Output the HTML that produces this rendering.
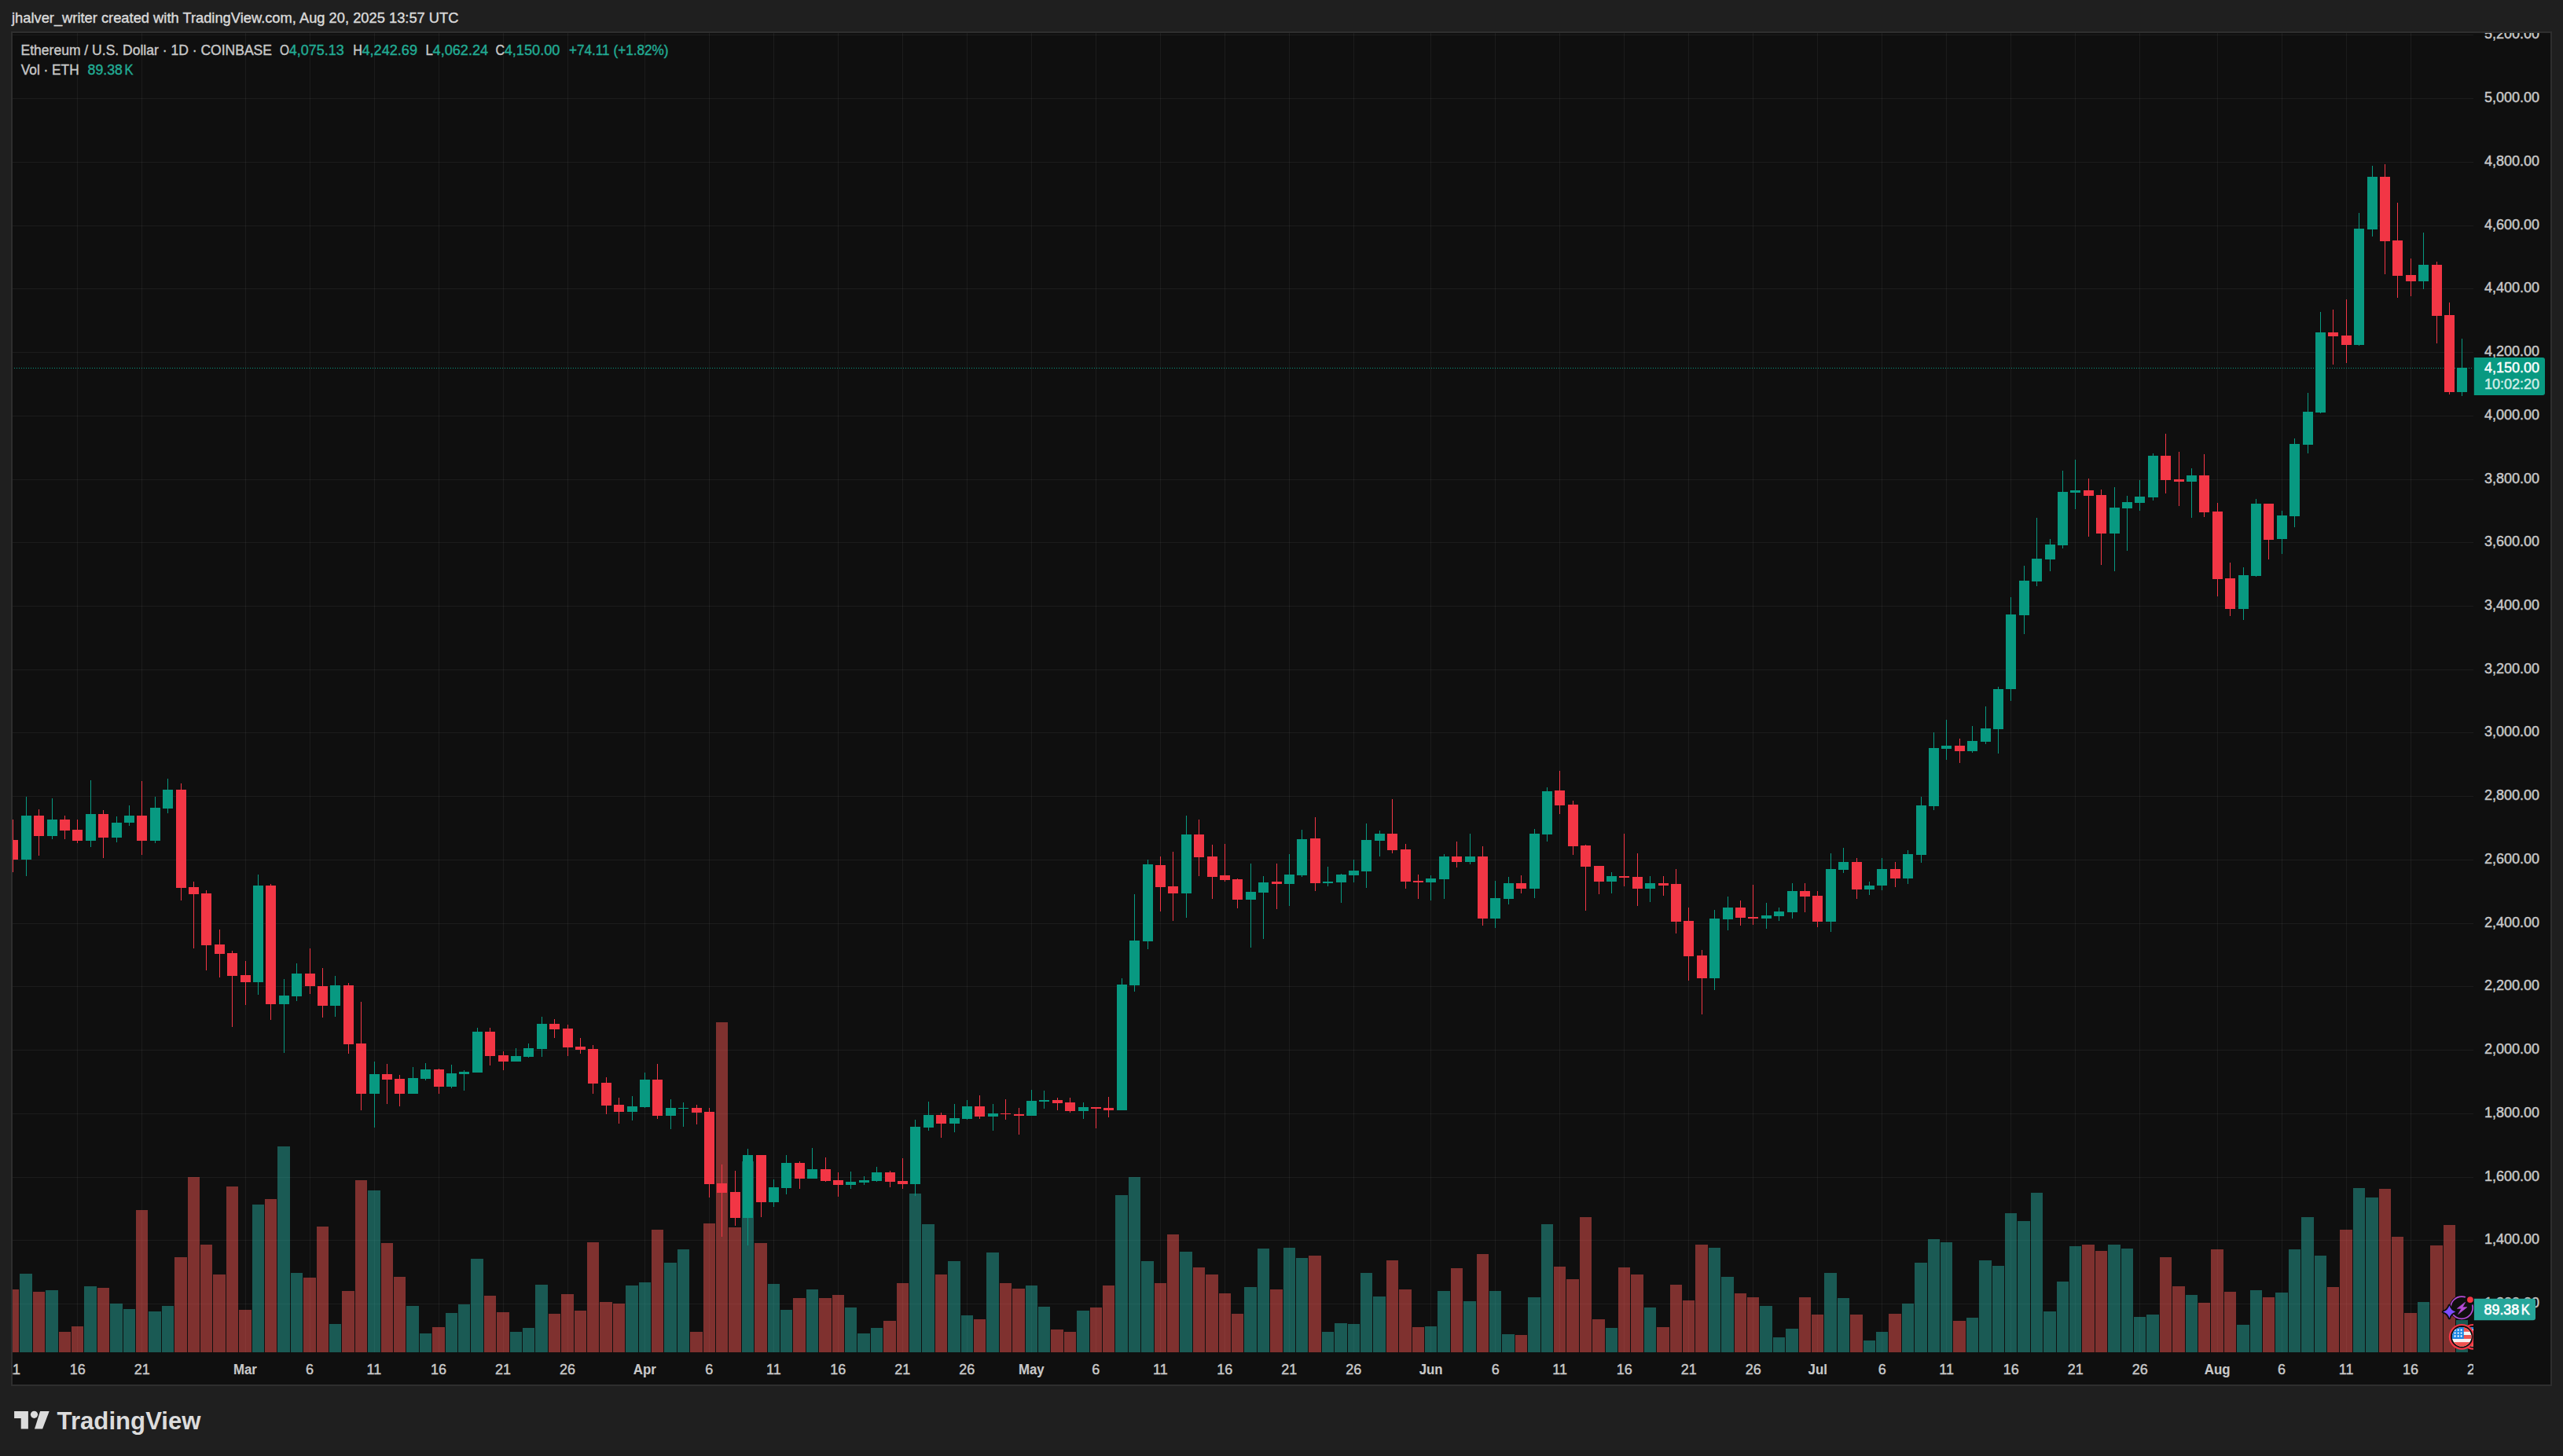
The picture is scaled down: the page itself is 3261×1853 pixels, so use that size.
<!DOCTYPE html>
<html><head><meta charset="utf-8"><title>ETHUSD chart</title>
<style>
html,body{margin:0;padding:0}
body{width:3261px;height:1853px;background:#1f1f1f;position:relative;overflow:hidden;font-family:"Liberation Sans",sans-serif}
</style></head><body>
<svg width="3261" height="1853" viewBox="0 0 3261 1853" style="position:absolute;left:0;top:0"><defs><clipPath id="pane"><rect x="16" y="42" width="3131" height="1679"/></clipPath><clipPath id="tax"><rect x="16" y="1721" width="3131" height="41"/></clipPath><clipPath id="frame"><rect x="16" y="42" width="3229" height="1720"/></clipPath></defs><rect x="15" y="41" width="3231" height="1722" fill="#0f0f0f" stroke="#2e2e2e" stroke-width="2"/><g clip-path="url(#pane)" stroke="rgba(255,255,255,0.055)" stroke-width="1" shape-rendering="crispEdges"><line x1="16" y1="1659.5" x2="3147" y2="1659.5"/><line x1="16" y1="1578.5" x2="3147" y2="1578.5"/><line x1="16" y1="1498.5" x2="3147" y2="1498.5"/><line x1="16" y1="1417.5" x2="3147" y2="1417.5"/><line x1="16" y1="1336.5" x2="3147" y2="1336.5"/><line x1="16" y1="1255.5" x2="3147" y2="1255.5"/><line x1="16" y1="1175.5" x2="3147" y2="1175.5"/><line x1="16" y1="1094.5" x2="3147" y2="1094.5"/><line x1="16" y1="1013.5" x2="3147" y2="1013.5"/><line x1="16" y1="932.5" x2="3147" y2="932.5"/><line x1="16" y1="852.5" x2="3147" y2="852.5"/><line x1="16" y1="771.5" x2="3147" y2="771.5"/><line x1="16" y1="690.5" x2="3147" y2="690.5"/><line x1="16" y1="610.5" x2="3147" y2="610.5"/><line x1="16" y1="529.5" x2="3147" y2="529.5"/><line x1="16" y1="448.5" x2="3147" y2="448.5"/><line x1="16" y1="367.5" x2="3147" y2="367.5"/><line x1="16" y1="287.5" x2="3147" y2="287.5"/><line x1="16" y1="206.5" x2="3147" y2="206.5"/><line x1="16" y1="125.5" x2="3147" y2="125.5"/><line x1="16" y1="44.5" x2="3147" y2="44.5"/><line x1="98.5" y1="42" x2="98.5" y2="1721"/><line x1="180.5" y1="42" x2="180.5" y2="1721"/><line x1="312.5" y1="42" x2="312.5" y2="1721"/><line x1="394.5" y1="42" x2="394.5" y2="1721"/><line x1="476.5" y1="42" x2="476.5" y2="1721"/><line x1="558.5" y1="42" x2="558.5" y2="1721"/><line x1="640.5" y1="42" x2="640.5" y2="1721"/><line x1="722.5" y1="42" x2="722.5" y2="1721"/><line x1="820.5" y1="42" x2="820.5" y2="1721"/><line x1="902.5" y1="42" x2="902.5" y2="1721"/><line x1="984.5" y1="42" x2="984.5" y2="1721"/><line x1="1066.5" y1="42" x2="1066.5" y2="1721"/><line x1="1148.5" y1="42" x2="1148.5" y2="1721"/><line x1="1230.5" y1="42" x2="1230.5" y2="1721"/><line x1="1312.5" y1="42" x2="1312.5" y2="1721"/><line x1="1394.5" y1="42" x2="1394.5" y2="1721"/><line x1="1476.5" y1="42" x2="1476.5" y2="1721"/><line x1="1558.5" y1="42" x2="1558.5" y2="1721"/><line x1="1640.5" y1="42" x2="1640.5" y2="1721"/><line x1="1722.5" y1="42" x2="1722.5" y2="1721"/><line x1="1820.5" y1="42" x2="1820.5" y2="1721"/><line x1="1902.5" y1="42" x2="1902.5" y2="1721"/><line x1="1984.5" y1="42" x2="1984.5" y2="1721"/><line x1="2066.5" y1="42" x2="2066.5" y2="1721"/><line x1="2148.5" y1="42" x2="2148.5" y2="1721"/><line x1="2230.5" y1="42" x2="2230.5" y2="1721"/><line x1="2312.5" y1="42" x2="2312.5" y2="1721"/><line x1="2394.5" y1="42" x2="2394.5" y2="1721"/><line x1="2476.5" y1="42" x2="2476.5" y2="1721"/><line x1="2558.5" y1="42" x2="2558.5" y2="1721"/><line x1="2640.5" y1="42" x2="2640.5" y2="1721"/><line x1="2722.5" y1="42" x2="2722.5" y2="1721"/><line x1="2821.5" y1="42" x2="2821.5" y2="1721"/><line x1="2903.5" y1="42" x2="2903.5" y2="1721"/><line x1="2985.5" y1="42" x2="2985.5" y2="1721"/><line x1="3067.5" y1="42" x2="3067.5" y2="1721"/><line x1="3149.5" y1="42" x2="3149.5" y2="1721"/></g><g clip-path="url(#pane)" fill-opacity="0.5" shape-rendering="crispEdges"><rect x="9" y="1641" width="15" height="80" fill="#ef5350"/><rect x="25" y="1621" width="16" height="100" fill="#26a69a"/><rect x="42" y="1644" width="15" height="77" fill="#ef5350"/><rect x="58" y="1642" width="16" height="79" fill="#26a69a"/><rect x="75" y="1695" width="15" height="26" fill="#ef5350"/><rect x="91" y="1688" width="15" height="33" fill="#ef5350"/><rect x="107" y="1637" width="16" height="84" fill="#26a69a"/><rect x="124" y="1639" width="15" height="82" fill="#ef5350"/><rect x="140" y="1659" width="16" height="62" fill="#26a69a"/><rect x="157" y="1666" width="15" height="55" fill="#26a69a"/><rect x="173" y="1540" width="15" height="181" fill="#ef5350"/><rect x="189" y="1669" width="16" height="52" fill="#26a69a"/><rect x="206" y="1662" width="15" height="59" fill="#26a69a"/><rect x="222" y="1600" width="16" height="121" fill="#ef5350"/><rect x="239" y="1498" width="15" height="223" fill="#ef5350"/><rect x="255" y="1584" width="15" height="137" fill="#ef5350"/><rect x="271" y="1622" width="16" height="99" fill="#ef5350"/><rect x="288" y="1510" width="15" height="211" fill="#ef5350"/><rect x="304" y="1667" width="16" height="54" fill="#ef5350"/><rect x="321" y="1533" width="15" height="188" fill="#26a69a"/><rect x="337" y="1526" width="15" height="195" fill="#ef5350"/><rect x="353" y="1459" width="16" height="262" fill="#26a69a"/><rect x="370" y="1620" width="15" height="101" fill="#26a69a"/><rect x="386" y="1626" width="16" height="95" fill="#ef5350"/><rect x="403" y="1561" width="15" height="160" fill="#ef5350"/><rect x="419" y="1685" width="15" height="36" fill="#26a69a"/><rect x="435" y="1643" width="16" height="78" fill="#ef5350"/><rect x="452" y="1502" width="15" height="219" fill="#ef5350"/><rect x="468" y="1515" width="16" height="206" fill="#26a69a"/><rect x="485" y="1582" width="15" height="139" fill="#ef5350"/><rect x="501" y="1625" width="15" height="96" fill="#ef5350"/><rect x="517" y="1662" width="16" height="59" fill="#26a69a"/><rect x="534" y="1697" width="15" height="24" fill="#26a69a"/><rect x="550" y="1689" width="16" height="32" fill="#ef5350"/><rect x="567" y="1671" width="15" height="50" fill="#26a69a"/><rect x="583" y="1660" width="15" height="61" fill="#26a69a"/><rect x="599" y="1602" width="16" height="119" fill="#26a69a"/><rect x="616" y="1649" width="15" height="72" fill="#ef5350"/><rect x="632" y="1670" width="16" height="51" fill="#ef5350"/><rect x="649" y="1695" width="15" height="26" fill="#26a69a"/><rect x="665" y="1690" width="15" height="31" fill="#26a69a"/><rect x="681" y="1635" width="16" height="86" fill="#26a69a"/><rect x="698" y="1672" width="15" height="49" fill="#ef5350"/><rect x="714" y="1647" width="16" height="74" fill="#ef5350"/><rect x="731" y="1668" width="15" height="53" fill="#ef5350"/><rect x="747" y="1581" width="15" height="140" fill="#ef5350"/><rect x="763" y="1657" width="16" height="64" fill="#ef5350"/><rect x="780" y="1659" width="15" height="62" fill="#ef5350"/><rect x="796" y="1636" width="16" height="85" fill="#26a69a"/><rect x="813" y="1632" width="15" height="89" fill="#26a69a"/><rect x="829" y="1565" width="15" height="156" fill="#ef5350"/><rect x="845" y="1607" width="16" height="114" fill="#26a69a"/><rect x="862" y="1590" width="15" height="131" fill="#26a69a"/><rect x="878" y="1695" width="16" height="26" fill="#ef5350"/><rect x="895" y="1557" width="15" height="164" fill="#ef5350"/><rect x="911" y="1301" width="15" height="420" fill="#ef5350"/><rect x="927" y="1562" width="16" height="159" fill="#ef5350"/><rect x="944" y="1478" width="15" height="243" fill="#26a69a"/><rect x="960" y="1582" width="16" height="139" fill="#ef5350"/><rect x="977" y="1634" width="15" height="87" fill="#26a69a"/><rect x="993" y="1667" width="15" height="54" fill="#26a69a"/><rect x="1009" y="1652" width="16" height="69" fill="#ef5350"/><rect x="1026" y="1641" width="15" height="80" fill="#26a69a"/><rect x="1042" y="1652" width="16" height="69" fill="#ef5350"/><rect x="1059" y="1648" width="15" height="73" fill="#ef5350"/><rect x="1075" y="1664" width="15" height="57" fill="#26a69a"/><rect x="1091" y="1697" width="16" height="24" fill="#26a69a"/><rect x="1108" y="1690" width="15" height="31" fill="#26a69a"/><rect x="1124" y="1681" width="16" height="40" fill="#ef5350"/><rect x="1141" y="1633" width="15" height="88" fill="#ef5350"/><rect x="1157" y="1519" width="15" height="202" fill="#26a69a"/><rect x="1173" y="1558" width="16" height="163" fill="#26a69a"/><rect x="1190" y="1622" width="15" height="99" fill="#ef5350"/><rect x="1206" y="1605" width="16" height="116" fill="#26a69a"/><rect x="1223" y="1674" width="15" height="47" fill="#26a69a"/><rect x="1239" y="1679" width="15" height="42" fill="#ef5350"/><rect x="1255" y="1594" width="16" height="127" fill="#26a69a"/><rect x="1272" y="1633" width="15" height="88" fill="#ef5350"/><rect x="1288" y="1640" width="16" height="81" fill="#ef5350"/><rect x="1305" y="1636" width="15" height="85" fill="#26a69a"/><rect x="1321" y="1663" width="15" height="58" fill="#26a69a"/><rect x="1337" y="1692" width="16" height="29" fill="#ef5350"/><rect x="1354" y="1695" width="15" height="26" fill="#ef5350"/><rect x="1370" y="1668" width="16" height="53" fill="#26a69a"/><rect x="1387" y="1664" width="15" height="57" fill="#ef5350"/><rect x="1403" y="1636" width="15" height="85" fill="#ef5350"/><rect x="1419" y="1521" width="16" height="200" fill="#26a69a"/><rect x="1436" y="1498" width="15" height="223" fill="#26a69a"/><rect x="1452" y="1605" width="16" height="116" fill="#26a69a"/><rect x="1469" y="1633" width="15" height="88" fill="#ef5350"/><rect x="1485" y="1571" width="15" height="150" fill="#ef5350"/><rect x="1501" y="1593" width="16" height="128" fill="#26a69a"/><rect x="1518" y="1613" width="15" height="108" fill="#ef5350"/><rect x="1534" y="1622" width="16" height="99" fill="#ef5350"/><rect x="1551" y="1646" width="15" height="75" fill="#ef5350"/><rect x="1567" y="1672" width="15" height="49" fill="#ef5350"/><rect x="1583" y="1638" width="16" height="83" fill="#26a69a"/><rect x="1600" y="1589" width="15" height="132" fill="#26a69a"/><rect x="1616" y="1641" width="16" height="80" fill="#ef5350"/><rect x="1633" y="1588" width="15" height="133" fill="#26a69a"/><rect x="1649" y="1601" width="15" height="120" fill="#26a69a"/><rect x="1665" y="1598" width="16" height="123" fill="#ef5350"/><rect x="1682" y="1695" width="15" height="26" fill="#26a69a"/><rect x="1698" y="1684" width="16" height="37" fill="#26a69a"/><rect x="1715" y="1685" width="15" height="36" fill="#26a69a"/><rect x="1731" y="1620" width="15" height="101" fill="#26a69a"/><rect x="1747" y="1650" width="16" height="71" fill="#26a69a"/><rect x="1764" y="1604" width="15" height="117" fill="#ef5350"/><rect x="1780" y="1641" width="16" height="80" fill="#ef5350"/><rect x="1797" y="1689" width="15" height="32" fill="#ef5350"/><rect x="1813" y="1688" width="15" height="33" fill="#26a69a"/><rect x="1829" y="1643" width="16" height="78" fill="#26a69a"/><rect x="1846" y="1614" width="15" height="107" fill="#ef5350"/><rect x="1862" y="1656" width="16" height="65" fill="#26a69a"/><rect x="1879" y="1596" width="15" height="125" fill="#ef5350"/><rect x="1895" y="1643" width="15" height="78" fill="#26a69a"/><rect x="1911" y="1698" width="16" height="23" fill="#26a69a"/><rect x="1928" y="1699" width="15" height="22" fill="#ef5350"/><rect x="1944" y="1651" width="16" height="70" fill="#26a69a"/><rect x="1961" y="1558" width="15" height="163" fill="#26a69a"/><rect x="1977" y="1612" width="15" height="109" fill="#ef5350"/><rect x="1993" y="1628" width="16" height="93" fill="#ef5350"/><rect x="2010" y="1549" width="15" height="172" fill="#ef5350"/><rect x="2026" y="1679" width="16" height="42" fill="#ef5350"/><rect x="2043" y="1690" width="15" height="31" fill="#26a69a"/><rect x="2059" y="1613" width="15" height="108" fill="#ef5350"/><rect x="2075" y="1622" width="16" height="99" fill="#ef5350"/><rect x="2092" y="1664" width="15" height="57" fill="#26a69a"/><rect x="2108" y="1689" width="16" height="32" fill="#ef5350"/><rect x="2125" y="1635" width="15" height="86" fill="#ef5350"/><rect x="2141" y="1655" width="15" height="66" fill="#ef5350"/><rect x="2157" y="1584" width="16" height="137" fill="#ef5350"/><rect x="2174" y="1588" width="15" height="133" fill="#26a69a"/><rect x="2190" y="1625" width="16" height="96" fill="#26a69a"/><rect x="2207" y="1646" width="15" height="75" fill="#ef5350"/><rect x="2223" y="1651" width="15" height="70" fill="#ef5350"/><rect x="2239" y="1662" width="16" height="59" fill="#26a69a"/><rect x="2256" y="1702" width="15" height="19" fill="#26a69a"/><rect x="2272" y="1691" width="16" height="30" fill="#26a69a"/><rect x="2289" y="1651" width="15" height="70" fill="#ef5350"/><rect x="2305" y="1673" width="15" height="48" fill="#ef5350"/><rect x="2321" y="1620" width="16" height="101" fill="#26a69a"/><rect x="2338" y="1652" width="15" height="69" fill="#26a69a"/><rect x="2354" y="1673" width="16" height="48" fill="#ef5350"/><rect x="2371" y="1706" width="15" height="15" fill="#26a69a"/><rect x="2387" y="1695" width="15" height="26" fill="#26a69a"/><rect x="2403" y="1672" width="16" height="49" fill="#ef5350"/><rect x="2420" y="1659" width="15" height="62" fill="#26a69a"/><rect x="2436" y="1607" width="16" height="114" fill="#26a69a"/><rect x="2453" y="1577" width="15" height="144" fill="#26a69a"/><rect x="2469" y="1581" width="15" height="140" fill="#26a69a"/><rect x="2485" y="1681" width="16" height="40" fill="#ef5350"/><rect x="2502" y="1677" width="15" height="44" fill="#26a69a"/><rect x="2518" y="1604" width="16" height="117" fill="#26a69a"/><rect x="2535" y="1611" width="15" height="110" fill="#26a69a"/><rect x="2551" y="1544" width="15" height="177" fill="#26a69a"/><rect x="2567" y="1554" width="16" height="167" fill="#26a69a"/><rect x="2584" y="1518" width="15" height="203" fill="#26a69a"/><rect x="2600" y="1669" width="16" height="52" fill="#26a69a"/><rect x="2617" y="1631" width="15" height="90" fill="#26a69a"/><rect x="2633" y="1586" width="15" height="135" fill="#26a69a"/><rect x="2649" y="1584" width="16" height="137" fill="#ef5350"/><rect x="2666" y="1592" width="15" height="129" fill="#ef5350"/><rect x="2682" y="1584" width="16" height="137" fill="#26a69a"/><rect x="2699" y="1589" width="15" height="132" fill="#26a69a"/><rect x="2715" y="1676" width="15" height="45" fill="#26a69a"/><rect x="2731" y="1673" width="16" height="48" fill="#26a69a"/><rect x="2748" y="1600" width="15" height="121" fill="#ef5350"/><rect x="2764" y="1637" width="16" height="84" fill="#ef5350"/><rect x="2781" y="1648" width="15" height="73" fill="#26a69a"/><rect x="2797" y="1658" width="15" height="63" fill="#ef5350"/><rect x="2813" y="1590" width="16" height="131" fill="#ef5350"/><rect x="2830" y="1644" width="15" height="77" fill="#ef5350"/><rect x="2846" y="1686" width="16" height="35" fill="#26a69a"/><rect x="2863" y="1642" width="15" height="79" fill="#26a69a"/><rect x="2879" y="1651" width="15" height="70" fill="#ef5350"/><rect x="2895" y="1645" width="16" height="76" fill="#26a69a"/><rect x="2912" y="1590" width="15" height="131" fill="#26a69a"/><rect x="2928" y="1549" width="16" height="172" fill="#26a69a"/><rect x="2945" y="1598" width="15" height="123" fill="#26a69a"/><rect x="2961" y="1638" width="15" height="83" fill="#ef5350"/><rect x="2977" y="1565" width="16" height="156" fill="#ef5350"/><rect x="2994" y="1512" width="15" height="209" fill="#26a69a"/><rect x="3010" y="1524" width="16" height="197" fill="#26a69a"/><rect x="3027" y="1513" width="15" height="208" fill="#ef5350"/><rect x="3043" y="1574" width="15" height="147" fill="#ef5350"/><rect x="3059" y="1671" width="16" height="50" fill="#ef5350"/><rect x="3076" y="1657" width="15" height="64" fill="#26a69a"/><rect x="3092" y="1585" width="16" height="136" fill="#ef5350"/><rect x="3109" y="1559" width="15" height="162" fill="#ef5350"/><rect x="3125" y="1680" width="15" height="41" fill="#26a69a"/></g><line clip-path="url(#pane)" x1="0" y1="468.5" x2="3147" y2="468.5" stroke="#089981" stroke-width="1" stroke-dasharray="1 2" shape-rendering="crispEdges"/><g clip-path="url(#pane)" shape-rendering="crispEdges"><rect x="16" y="1043" width="1" height="67" fill="#f23645"/><rect x="10" y="1069" width="13" height="25" fill="#f23645"/><rect x="33" y="1014" width="1" height="101" fill="#089981"/><rect x="27" y="1038" width="13" height="56" fill="#089981"/><rect x="49" y="1030" width="1" height="59" fill="#f23645"/><rect x="43" y="1038" width="13" height="26" fill="#f23645"/><rect x="66" y="1016" width="1" height="52" fill="#089981"/><rect x="60" y="1043" width="13" height="21" fill="#089981"/><rect x="82" y="1038" width="1" height="30" fill="#f23645"/><rect x="76" y="1043" width="13" height="14" fill="#f23645"/><rect x="98" y="1043" width="1" height="30" fill="#f23645"/><rect x="92" y="1056" width="13" height="14" fill="#f23645"/><rect x="115" y="993" width="1" height="85" fill="#089981"/><rect x="109" y="1036" width="13" height="34" fill="#089981"/><rect x="131" y="1031" width="1" height="61" fill="#f23645"/><rect x="125" y="1036" width="13" height="30" fill="#f23645"/><rect x="148" y="1039" width="1" height="33" fill="#089981"/><rect x="142" y="1047" width="13" height="19" fill="#089981"/><rect x="164" y="1025" width="1" height="26" fill="#089981"/><rect x="158" y="1038" width="13" height="9" fill="#089981"/><rect x="180" y="994" width="1" height="94" fill="#f23645"/><rect x="174" y="1038" width="13" height="32" fill="#f23645"/><rect x="197" y="1014" width="1" height="59" fill="#089981"/><rect x="191" y="1028" width="13" height="42" fill="#089981"/><rect x="213" y="991" width="1" height="44" fill="#089981"/><rect x="207" y="1005" width="13" height="24" fill="#089981"/><rect x="230" y="997" width="1" height="149" fill="#f23645"/><rect x="224" y="1005" width="13" height="125" fill="#f23645"/><rect x="246" y="1122" width="1" height="85" fill="#f23645"/><rect x="240" y="1129" width="13" height="9" fill="#f23645"/><rect x="262" y="1133" width="1" height="102" fill="#f23645"/><rect x="256" y="1137" width="13" height="66" fill="#f23645"/><rect x="279" y="1183" width="1" height="61" fill="#f23645"/><rect x="273" y="1202" width="13" height="12" fill="#f23645"/><rect x="295" y="1210" width="1" height="97" fill="#f23645"/><rect x="289" y="1213" width="13" height="29" fill="#f23645"/><rect x="312" y="1223" width="1" height="56" fill="#f23645"/><rect x="306" y="1241" width="13" height="9" fill="#f23645"/><rect x="328" y="1113" width="1" height="153" fill="#089981"/><rect x="322" y="1127" width="13" height="123" fill="#089981"/><rect x="344" y="1125" width="1" height="173" fill="#f23645"/><rect x="338" y="1127" width="13" height="151" fill="#f23645"/><rect x="361" y="1246" width="1" height="94" fill="#089981"/><rect x="355" y="1267" width="13" height="11" fill="#089981"/><rect x="377" y="1226" width="1" height="48" fill="#089981"/><rect x="371" y="1239" width="13" height="29" fill="#089981"/><rect x="394" y="1207" width="1" height="58" fill="#f23645"/><rect x="388" y="1239" width="13" height="16" fill="#f23645"/><rect x="410" y="1232" width="1" height="63" fill="#f23645"/><rect x="404" y="1255" width="13" height="25" fill="#f23645"/><rect x="426" y="1242" width="1" height="52" fill="#089981"/><rect x="420" y="1254" width="13" height="26" fill="#089981"/><rect x="443" y="1251" width="1" height="90" fill="#f23645"/><rect x="437" y="1254" width="13" height="75" fill="#f23645"/><rect x="459" y="1275" width="1" height="138" fill="#f23645"/><rect x="453" y="1328" width="13" height="64" fill="#f23645"/><rect x="476" y="1351" width="1" height="84" fill="#089981"/><rect x="470" y="1367" width="13" height="25" fill="#089981"/><rect x="492" y="1354" width="1" height="51" fill="#f23645"/><rect x="486" y="1367" width="13" height="7" fill="#f23645"/><rect x="508" y="1368" width="1" height="40" fill="#f23645"/><rect x="502" y="1373" width="13" height="19" fill="#f23645"/><rect x="525" y="1358" width="1" height="34" fill="#089981"/><rect x="519" y="1372" width="13" height="20" fill="#089981"/><rect x="541" y="1353" width="1" height="22" fill="#089981"/><rect x="535" y="1361" width="13" height="12" fill="#089981"/><rect x="558" y="1360" width="1" height="32" fill="#f23645"/><rect x="552" y="1361" width="13" height="22" fill="#f23645"/><rect x="574" y="1355" width="1" height="30" fill="#089981"/><rect x="568" y="1366" width="13" height="17" fill="#089981"/><rect x="590" y="1362" width="1" height="26" fill="#089981"/><rect x="584" y="1364" width="13" height="3" fill="#089981"/><rect x="607" y="1308" width="1" height="57" fill="#089981"/><rect x="601" y="1313" width="13" height="52" fill="#089981"/><rect x="623" y="1308" width="1" height="48" fill="#f23645"/><rect x="617" y="1313" width="13" height="31" fill="#f23645"/><rect x="640" y="1338" width="1" height="24" fill="#f23645"/><rect x="634" y="1343" width="13" height="8" fill="#f23645"/><rect x="656" y="1334" width="1" height="17" fill="#089981"/><rect x="650" y="1344" width="13" height="7" fill="#089981"/><rect x="672" y="1328" width="1" height="18" fill="#089981"/><rect x="666" y="1334" width="13" height="11" fill="#089981"/><rect x="689" y="1294" width="1" height="51" fill="#089981"/><rect x="683" y="1303" width="13" height="32" fill="#089981"/><rect x="705" y="1297" width="1" height="24" fill="#f23645"/><rect x="699" y="1303" width="13" height="7" fill="#f23645"/><rect x="722" y="1304" width="1" height="40" fill="#f23645"/><rect x="716" y="1309" width="13" height="24" fill="#f23645"/><rect x="738" y="1321" width="1" height="20" fill="#f23645"/><rect x="732" y="1332" width="13" height="4" fill="#f23645"/><rect x="754" y="1330" width="1" height="62" fill="#f23645"/><rect x="748" y="1335" width="13" height="44" fill="#f23645"/><rect x="771" y="1371" width="1" height="47" fill="#f23645"/><rect x="765" y="1378" width="13" height="29" fill="#f23645"/><rect x="787" y="1397" width="1" height="33" fill="#f23645"/><rect x="781" y="1406" width="13" height="9" fill="#f23645"/><rect x="804" y="1395" width="1" height="31" fill="#089981"/><rect x="798" y="1408" width="13" height="7" fill="#089981"/><rect x="820" y="1365" width="1" height="45" fill="#089981"/><rect x="814" y="1374" width="13" height="35" fill="#089981"/><rect x="836" y="1354" width="1" height="70" fill="#f23645"/><rect x="830" y="1374" width="13" height="46" fill="#f23645"/><rect x="853" y="1399" width="1" height="38" fill="#089981"/><rect x="847" y="1410" width="13" height="10" fill="#089981"/><rect x="869" y="1403" width="1" height="31" fill="#089981"/><rect x="863" y="1410" width="13" height="1" fill="#089981"/><rect x="886" y="1406" width="1" height="25" fill="#f23645"/><rect x="880" y="1410" width="13" height="6" fill="#f23645"/><rect x="902" y="1410" width="1" height="114" fill="#f23645"/><rect x="896" y="1415" width="13" height="92" fill="#f23645"/><rect x="918" y="1482" width="1" height="92" fill="#f23645"/><rect x="912" y="1506" width="13" height="12" fill="#f23645"/><rect x="935" y="1490" width="1" height="70" fill="#f23645"/><rect x="929" y="1517" width="13" height="33" fill="#f23645"/><rect x="951" y="1462" width="1" height="123" fill="#089981"/><rect x="945" y="1470" width="13" height="80" fill="#089981"/><rect x="968" y="1470" width="1" height="79" fill="#f23645"/><rect x="962" y="1470" width="13" height="60" fill="#f23645"/><rect x="984" y="1501" width="1" height="35" fill="#089981"/><rect x="978" y="1511" width="13" height="19" fill="#089981"/><rect x="1000" y="1470" width="1" height="50" fill="#089981"/><rect x="994" y="1480" width="13" height="32" fill="#089981"/><rect x="1017" y="1478" width="1" height="35" fill="#f23645"/><rect x="1011" y="1480" width="13" height="20" fill="#f23645"/><rect x="1033" y="1461" width="1" height="39" fill="#089981"/><rect x="1027" y="1488" width="13" height="12" fill="#089981"/><rect x="1050" y="1473" width="1" height="31" fill="#f23645"/><rect x="1044" y="1488" width="13" height="15" fill="#f23645"/><rect x="1066" y="1492" width="1" height="31" fill="#f23645"/><rect x="1060" y="1502" width="13" height="6" fill="#f23645"/><rect x="1082" y="1491" width="1" height="22" fill="#089981"/><rect x="1076" y="1504" width="13" height="4" fill="#089981"/><rect x="1099" y="1497" width="1" height="11" fill="#089981"/><rect x="1093" y="1502" width="13" height="3" fill="#089981"/><rect x="1115" y="1485" width="1" height="19" fill="#089981"/><rect x="1109" y="1492" width="13" height="11" fill="#089981"/><rect x="1132" y="1490" width="1" height="21" fill="#f23645"/><rect x="1126" y="1492" width="13" height="12" fill="#f23645"/><rect x="1148" y="1474" width="1" height="39" fill="#f23645"/><rect x="1142" y="1503" width="13" height="4" fill="#f23645"/><rect x="1164" y="1425" width="1" height="97" fill="#089981"/><rect x="1158" y="1434" width="13" height="73" fill="#089981"/><rect x="1181" y="1402" width="1" height="37" fill="#089981"/><rect x="1175" y="1419" width="13" height="16" fill="#089981"/><rect x="1197" y="1416" width="1" height="32" fill="#f23645"/><rect x="1191" y="1419" width="13" height="11" fill="#f23645"/><rect x="1214" y="1405" width="1" height="36" fill="#089981"/><rect x="1208" y="1423" width="13" height="7" fill="#089981"/><rect x="1230" y="1400" width="1" height="25" fill="#089981"/><rect x="1224" y="1408" width="13" height="16" fill="#089981"/><rect x="1246" y="1394" width="1" height="30" fill="#f23645"/><rect x="1240" y="1408" width="13" height="13" fill="#f23645"/><rect x="1263" y="1405" width="1" height="34" fill="#089981"/><rect x="1257" y="1417" width="13" height="4" fill="#089981"/><rect x="1279" y="1399" width="1" height="26" fill="#f23645"/><rect x="1273" y="1417" width="13" height="1" fill="#f23645"/><rect x="1296" y="1410" width="1" height="34" fill="#f23645"/><rect x="1290" y="1418" width="13" height="2" fill="#f23645"/><rect x="1312" y="1387" width="1" height="33" fill="#089981"/><rect x="1306" y="1401" width="13" height="19" fill="#089981"/><rect x="1328" y="1388" width="1" height="23" fill="#089981"/><rect x="1322" y="1400" width="13" height="2" fill="#089981"/><rect x="1345" y="1397" width="1" height="16" fill="#f23645"/><rect x="1339" y="1400" width="13" height="4" fill="#f23645"/><rect x="1361" y="1397" width="1" height="19" fill="#f23645"/><rect x="1355" y="1403" width="13" height="11" fill="#f23645"/><rect x="1378" y="1403" width="1" height="21" fill="#089981"/><rect x="1372" y="1409" width="13" height="5" fill="#089981"/><rect x="1394" y="1409" width="1" height="27" fill="#f23645"/><rect x="1388" y="1409" width="13" height="2" fill="#f23645"/><rect x="1410" y="1396" width="1" height="26" fill="#f23645"/><rect x="1404" y="1410" width="13" height="3" fill="#f23645"/><rect x="1427" y="1245" width="1" height="168" fill="#089981"/><rect x="1421" y="1253" width="13" height="160" fill="#089981"/><rect x="1443" y="1138" width="1" height="124" fill="#089981"/><rect x="1437" y="1197" width="13" height="57" fill="#089981"/><rect x="1460" y="1094" width="1" height="114" fill="#089981"/><rect x="1454" y="1100" width="13" height="98" fill="#089981"/><rect x="1476" y="1090" width="1" height="70" fill="#f23645"/><rect x="1470" y="1101" width="13" height="28" fill="#f23645"/><rect x="1492" y="1084" width="1" height="88" fill="#f23645"/><rect x="1486" y="1128" width="13" height="9" fill="#f23645"/><rect x="1509" y="1038" width="1" height="130" fill="#089981"/><rect x="1503" y="1062" width="13" height="75" fill="#089981"/><rect x="1525" y="1043" width="1" height="72" fill="#f23645"/><rect x="1519" y="1062" width="13" height="29" fill="#f23645"/><rect x="1542" y="1075" width="1" height="69" fill="#f23645"/><rect x="1536" y="1090" width="13" height="26" fill="#f23645"/><rect x="1558" y="1074" width="1" height="48" fill="#f23645"/><rect x="1552" y="1114" width="13" height="6" fill="#f23645"/><rect x="1574" y="1118" width="1" height="38" fill="#f23645"/><rect x="1568" y="1119" width="13" height="26" fill="#f23645"/><rect x="1591" y="1099" width="1" height="107" fill="#089981"/><rect x="1585" y="1135" width="13" height="10" fill="#089981"/><rect x="1607" y="1115" width="1" height="80" fill="#089981"/><rect x="1601" y="1123" width="13" height="13" fill="#089981"/><rect x="1624" y="1099" width="1" height="58" fill="#f23645"/><rect x="1618" y="1122" width="13" height="3" fill="#f23645"/><rect x="1640" y="1087" width="1" height="66" fill="#089981"/><rect x="1634" y="1113" width="13" height="12" fill="#089981"/><rect x="1656" y="1056" width="1" height="60" fill="#089981"/><rect x="1650" y="1068" width="13" height="46" fill="#089981"/><rect x="1673" y="1040" width="1" height="94" fill="#f23645"/><rect x="1667" y="1067" width="13" height="57" fill="#f23645"/><rect x="1689" y="1103" width="1" height="25" fill="#089981"/><rect x="1683" y="1122" width="13" height="2" fill="#089981"/><rect x="1706" y="1112" width="1" height="37" fill="#089981"/><rect x="1700" y="1113" width="13" height="10" fill="#089981"/><rect x="1722" y="1094" width="1" height="29" fill="#089981"/><rect x="1716" y="1108" width="13" height="6" fill="#089981"/><rect x="1738" y="1048" width="1" height="82" fill="#089981"/><rect x="1732" y="1069" width="13" height="40" fill="#089981"/><rect x="1755" y="1057" width="1" height="33" fill="#089981"/><rect x="1749" y="1061" width="13" height="9" fill="#089981"/><rect x="1771" y="1017" width="1" height="69" fill="#f23645"/><rect x="1765" y="1061" width="13" height="21" fill="#f23645"/><rect x="1788" y="1074" width="1" height="57" fill="#f23645"/><rect x="1782" y="1081" width="13" height="41" fill="#f23645"/><rect x="1804" y="1113" width="1" height="31" fill="#f23645"/><rect x="1798" y="1121" width="13" height="2" fill="#f23645"/><rect x="1820" y="1114" width="1" height="32" fill="#089981"/><rect x="1814" y="1118" width="13" height="5" fill="#089981"/><rect x="1837" y="1087" width="1" height="57" fill="#089981"/><rect x="1831" y="1090" width="13" height="29" fill="#089981"/><rect x="1853" y="1071" width="1" height="33" fill="#f23645"/><rect x="1847" y="1090" width="13" height="7" fill="#f23645"/><rect x="1870" y="1061" width="1" height="39" fill="#089981"/><rect x="1864" y="1090" width="13" height="7" fill="#089981"/><rect x="1886" y="1077" width="1" height="101" fill="#f23645"/><rect x="1880" y="1090" width="13" height="79" fill="#f23645"/><rect x="1902" y="1121" width="1" height="60" fill="#089981"/><rect x="1896" y="1143" width="13" height="26" fill="#089981"/><rect x="1919" y="1116" width="1" height="35" fill="#089981"/><rect x="1913" y="1124" width="13" height="20" fill="#089981"/><rect x="1935" y="1114" width="1" height="23" fill="#f23645"/><rect x="1929" y="1124" width="13" height="7" fill="#f23645"/><rect x="1952" y="1055" width="1" height="88" fill="#089981"/><rect x="1946" y="1061" width="13" height="70" fill="#089981"/><rect x="1968" y="1002" width="1" height="69" fill="#089981"/><rect x="1962" y="1007" width="13" height="55" fill="#089981"/><rect x="1984" y="981" width="1" height="55" fill="#f23645"/><rect x="1978" y="1006" width="13" height="19" fill="#f23645"/><rect x="2001" y="1019" width="1" height="69" fill="#f23645"/><rect x="1995" y="1024" width="13" height="53" fill="#f23645"/><rect x="2017" y="1075" width="1" height="84" fill="#f23645"/><rect x="2011" y="1076" width="13" height="27" fill="#f23645"/><rect x="2034" y="1102" width="1" height="36" fill="#f23645"/><rect x="2028" y="1102" width="13" height="20" fill="#f23645"/><rect x="2050" y="1110" width="1" height="27" fill="#089981"/><rect x="2044" y="1115" width="13" height="7" fill="#089981"/><rect x="2066" y="1061" width="1" height="67" fill="#f23645"/><rect x="2060" y="1115" width="13" height="2" fill="#f23645"/><rect x="2083" y="1086" width="1" height="67" fill="#f23645"/><rect x="2077" y="1116" width="13" height="15" fill="#f23645"/><rect x="2099" y="1115" width="1" height="33" fill="#089981"/><rect x="2093" y="1124" width="13" height="7" fill="#089981"/><rect x="2116" y="1115" width="1" height="25" fill="#f23645"/><rect x="2110" y="1124" width="13" height="3" fill="#f23645"/><rect x="2132" y="1106" width="1" height="82" fill="#f23645"/><rect x="2126" y="1125" width="13" height="48" fill="#f23645"/><rect x="2148" y="1155" width="1" height="93" fill="#f23645"/><rect x="2142" y="1172" width="13" height="45" fill="#f23645"/><rect x="2165" y="1209" width="1" height="82" fill="#f23645"/><rect x="2159" y="1216" width="13" height="29" fill="#f23645"/><rect x="2181" y="1158" width="1" height="102" fill="#089981"/><rect x="2175" y="1169" width="13" height="76" fill="#089981"/><rect x="2198" y="1141" width="1" height="43" fill="#089981"/><rect x="2192" y="1155" width="13" height="15" fill="#089981"/><rect x="2214" y="1146" width="1" height="32" fill="#f23645"/><rect x="2208" y="1155" width="13" height="13" fill="#f23645"/><rect x="2230" y="1126" width="1" height="51" fill="#f23645"/><rect x="2224" y="1167" width="13" height="2" fill="#f23645"/><rect x="2247" y="1149" width="1" height="33" fill="#089981"/><rect x="2241" y="1165" width="13" height="4" fill="#089981"/><rect x="2263" y="1155" width="1" height="17" fill="#089981"/><rect x="2257" y="1160" width="13" height="6" fill="#089981"/><rect x="2280" y="1124" width="1" height="45" fill="#089981"/><rect x="2274" y="1134" width="13" height="27" fill="#089981"/><rect x="2296" y="1124" width="1" height="37" fill="#f23645"/><rect x="2290" y="1134" width="13" height="7" fill="#f23645"/><rect x="2312" y="1134" width="1" height="46" fill="#f23645"/><rect x="2306" y="1140" width="13" height="33" fill="#f23645"/><rect x="2329" y="1086" width="1" height="100" fill="#089981"/><rect x="2323" y="1106" width="13" height="67" fill="#089981"/><rect x="2345" y="1079" width="1" height="32" fill="#089981"/><rect x="2339" y="1097" width="13" height="10" fill="#089981"/><rect x="2362" y="1092" width="1" height="52" fill="#f23645"/><rect x="2356" y="1097" width="13" height="35" fill="#f23645"/><rect x="2378" y="1122" width="1" height="17" fill="#089981"/><rect x="2372" y="1127" width="13" height="5" fill="#089981"/><rect x="2394" y="1092" width="1" height="41" fill="#089981"/><rect x="2388" y="1106" width="13" height="21" fill="#089981"/><rect x="2411" y="1097" width="1" height="32" fill="#f23645"/><rect x="2405" y="1106" width="13" height="12" fill="#f23645"/><rect x="2427" y="1082" width="1" height="43" fill="#089981"/><rect x="2421" y="1087" width="13" height="31" fill="#089981"/><rect x="2444" y="1014" width="1" height="84" fill="#089981"/><rect x="2438" y="1025" width="13" height="63" fill="#089981"/><rect x="2460" y="932" width="1" height="99" fill="#089981"/><rect x="2454" y="952" width="13" height="74" fill="#089981"/><rect x="2476" y="916" width="1" height="51" fill="#089981"/><rect x="2470" y="949" width="13" height="4" fill="#089981"/><rect x="2493" y="940" width="1" height="31" fill="#f23645"/><rect x="2487" y="949" width="13" height="7" fill="#f23645"/><rect x="2509" y="924" width="1" height="34" fill="#089981"/><rect x="2503" y="943" width="13" height="13" fill="#089981"/><rect x="2526" y="899" width="1" height="48" fill="#089981"/><rect x="2520" y="927" width="13" height="17" fill="#089981"/><rect x="2542" y="874" width="1" height="85" fill="#089981"/><rect x="2536" y="877" width="13" height="51" fill="#089981"/><rect x="2558" y="760" width="1" height="132" fill="#089981"/><rect x="2552" y="782" width="13" height="95" fill="#089981"/><rect x="2575" y="720" width="1" height="87" fill="#089981"/><rect x="2569" y="739" width="13" height="44" fill="#089981"/><rect x="2591" y="659" width="1" height="87" fill="#089981"/><rect x="2585" y="711" width="13" height="29" fill="#089981"/><rect x="2608" y="686" width="1" height="41" fill="#089981"/><rect x="2602" y="693" width="13" height="19" fill="#089981"/><rect x="2624" y="599" width="1" height="99" fill="#089981"/><rect x="2618" y="626" width="13" height="68" fill="#089981"/><rect x="2640" y="585" width="1" height="63" fill="#089981"/><rect x="2634" y="624" width="13" height="3" fill="#089981"/><rect x="2657" y="609" width="1" height="74" fill="#f23645"/><rect x="2651" y="624" width="13" height="7" fill="#f23645"/><rect x="2673" y="623" width="1" height="96" fill="#f23645"/><rect x="2667" y="630" width="13" height="49" fill="#f23645"/><rect x="2690" y="620" width="1" height="107" fill="#089981"/><rect x="2684" y="646" width="13" height="33" fill="#089981"/><rect x="2706" y="631" width="1" height="70" fill="#089981"/><rect x="2700" y="639" width="13" height="8" fill="#089981"/><rect x="2722" y="611" width="1" height="39" fill="#089981"/><rect x="2716" y="632" width="13" height="8" fill="#089981"/><rect x="2739" y="577" width="1" height="60" fill="#089981"/><rect x="2733" y="580" width="13" height="53" fill="#089981"/><rect x="2755" y="552" width="1" height="76" fill="#f23645"/><rect x="2749" y="580" width="13" height="31" fill="#f23645"/><rect x="2772" y="575" width="1" height="69" fill="#f23645"/><rect x="2766" y="610" width="13" height="3" fill="#f23645"/><rect x="2788" y="596" width="1" height="63" fill="#089981"/><rect x="2782" y="605" width="13" height="8" fill="#089981"/><rect x="2804" y="578" width="1" height="80" fill="#f23645"/><rect x="2798" y="605" width="13" height="47" fill="#f23645"/><rect x="2821" y="640" width="1" height="119" fill="#f23645"/><rect x="2815" y="651" width="13" height="86" fill="#f23645"/><rect x="2837" y="716" width="1" height="68" fill="#f23645"/><rect x="2831" y="736" width="13" height="39" fill="#f23645"/><rect x="2854" y="722" width="1" height="67" fill="#089981"/><rect x="2848" y="732" width="13" height="43" fill="#089981"/><rect x="2870" y="635" width="1" height="99" fill="#089981"/><rect x="2864" y="641" width="13" height="92" fill="#089981"/><rect x="2886" y="641" width="1" height="71" fill="#f23645"/><rect x="2880" y="641" width="13" height="46" fill="#f23645"/><rect x="2903" y="650" width="1" height="55" fill="#089981"/><rect x="2897" y="656" width="13" height="30" fill="#089981"/><rect x="2919" y="558" width="1" height="113" fill="#089981"/><rect x="2913" y="565" width="13" height="92" fill="#089981"/><rect x="2936" y="500" width="1" height="77" fill="#089981"/><rect x="2930" y="524" width="13" height="42" fill="#089981"/><rect x="2952" y="397" width="1" height="129" fill="#089981"/><rect x="2946" y="423" width="13" height="102" fill="#089981"/><rect x="2968" y="394" width="1" height="70" fill="#f23645"/><rect x="2962" y="423" width="13" height="5" fill="#f23645"/><rect x="2985" y="381" width="1" height="81" fill="#f23645"/><rect x="2979" y="427" width="13" height="12" fill="#f23645"/><rect x="3001" y="271" width="1" height="169" fill="#089981"/><rect x="2995" y="291" width="13" height="148" fill="#089981"/><rect x="3018" y="211" width="1" height="90" fill="#089981"/><rect x="3012" y="225" width="13" height="67" fill="#089981"/><rect x="3034" y="209" width="1" height="140" fill="#f23645"/><rect x="3028" y="225" width="13" height="82" fill="#f23645"/><rect x="3050" y="258" width="1" height="121" fill="#f23645"/><rect x="3044" y="306" width="13" height="45" fill="#f23645"/><rect x="3067" y="329" width="1" height="48" fill="#f23645"/><rect x="3061" y="350" width="13" height="8" fill="#f23645"/><rect x="3083" y="296" width="1" height="72" fill="#089981"/><rect x="3077" y="337" width="13" height="21" fill="#089981"/><rect x="3100" y="333" width="1" height="104" fill="#f23645"/><rect x="3094" y="337" width="13" height="65" fill="#f23645"/><rect x="3116" y="385" width="1" height="117" fill="#f23645"/><rect x="3110" y="401" width="13" height="98" fill="#f23645"/><rect x="3132" y="431" width="1" height="73" fill="#089981"/><rect x="3126" y="468" width="13" height="31" fill="#089981"/></g><g clip-path="url(#frame)" font-family="Liberation Sans, sans-serif" font-size="18" fill="#c9c9c9" stroke="#c9c9c9" stroke-width="0.45" text-anchor="end"><text x="3231" y="1663.8">1,200.00</text><text x="3231" y="1582.8">1,400.00</text><text x="3231" y="1502.8">1,600.00</text><text x="3231" y="1421.8">1,800.00</text><text x="3231" y="1340.8">2,000.00</text><text x="3231" y="1259.8">2,200.00</text><text x="3231" y="1179.8">2,400.00</text><text x="3231" y="1098.8">2,600.00</text><text x="3231" y="1017.8">2,800.00</text><text x="3231" y="936.8">3,000.00</text><text x="3231" y="856.8">3,200.00</text><text x="3231" y="775.8">3,400.00</text><text x="3231" y="694.8">3,600.00</text><text x="3231" y="614.8">3,800.00</text><text x="3231" y="533.8">4,000.00</text><text x="3231" y="452.8">4,200.00</text><text x="3231" y="371.8">4,400.00</text><text x="3231" y="291.8">4,600.00</text><text x="3231" y="210.8">4,800.00</text><text x="3231" y="129.8">5,000.00</text><text x="3231" y="48.8">5,200.00</text></g><g clip-path="url(#tax)" font-family="Liberation Sans, sans-serif" font-size="18" fill="#c9c9c9" stroke="#c9c9c9" stroke-width="0.45" text-anchor="middle"><text x="16.7" y="1749">11</text><text x="98.7" y="1749">16</text><text x="180.7" y="1749">21</text><text x="311.9" y="1749" font-weight="bold" stroke-width="0.1" textLength="29.92" lengthAdjust="spacingAndGlyphs">Mar</text><text x="393.9" y="1749">6</text><text x="475.9" y="1749">11</text><text x="557.9" y="1749">16</text><text x="639.9" y="1749">21</text><text x="721.9" y="1749">26</text><text x="820.3" y="1749" font-weight="bold" stroke-width="0.1" textLength="28.99" lengthAdjust="spacingAndGlyphs">Apr</text><text x="902.3" y="1749">6</text><text x="984.3" y="1749">11</text><text x="1066.3" y="1749">16</text><text x="1148.3" y="1749">21</text><text x="1230.3" y="1749">26</text><text x="1312.3" y="1749" font-weight="bold" stroke-width="0.1" textLength="32.73" lengthAdjust="spacingAndGlyphs">May</text><text x="1394.3" y="1749">6</text><text x="1476.3" y="1749">11</text><text x="1558.3" y="1749">16</text><text x="1640.3" y="1749">21</text><text x="1722.3" y="1749">26</text><text x="1820.7" y="1749" font-weight="bold" stroke-width="0.1" textLength="29.92" lengthAdjust="spacingAndGlyphs">Jun</text><text x="1902.7" y="1749">6</text><text x="1984.7" y="1749">11</text><text x="2066.7" y="1749">16</text><text x="2148.7" y="1749">21</text><text x="2230.7" y="1749">26</text><text x="2312.7" y="1749" font-weight="bold" stroke-width="0.1" textLength="24.31" lengthAdjust="spacingAndGlyphs">Jul</text><text x="2394.7" y="1749">6</text><text x="2476.7" y="1749">11</text><text x="2558.7" y="1749">16</text><text x="2640.7" y="1749">21</text><text x="2722.7" y="1749">26</text><text x="2821.1" y="1749" font-weight="bold" stroke-width="0.1" textLength="32.73" lengthAdjust="spacingAndGlyphs">Aug</text><text x="2903.1" y="1749">6</text><text x="2985.1" y="1749">11</text><text x="3067.1" y="1749">16</text><text x="3149.1" y="1749">21</text></g><path d="M3147.8 455 H3235 a3 3 0 0 1 3 3 V500 a3 3 0 0 1 -3 3 H3147.8 Z" fill="#089981"/><text x="3231" y="473.6" font-family="Liberation Sans, sans-serif" font-size="18" fill="#ffffff" stroke="#ffffff" stroke-width="0.45" text-anchor="end">4,150.00</text><text x="3231" y="494.5" font-family="Liberation Sans, sans-serif" font-size="18" fill="#d2ede8" stroke="#d2ede8" stroke-width="0.45" text-anchor="end">10:02:20</text><path d="M3147.9 1652.8 H3223 a3 3 0 0 1 3 3 V1677.3 a3 3 0 0 1 -3 3 H3147.9 Z" fill="#26a69a"/><text x="3160.6" y="1672.8" font-family="Liberation Sans, sans-serif" font-size="18" fill="#ffffff" stroke="#ffffff" stroke-width="0.6" textLength="44.6" lengthAdjust="spacingAndGlyphs">89.38</text><text x="3207.8" y="1672.8" font-family="Liberation Sans, sans-serif" font-size="18" fill="#ffffff" stroke="#ffffff" stroke-width="0.6" textLength="11" lengthAdjust="spacingAndGlyphs">K</text><g clip-path="url(#pane)"><circle cx="3147.0" cy="1701.3" r="15.3" fill="#0f0f0f" stroke="#f23645" stroke-width="2.2"/><clipPath id="flag2"><circle cx="3147.0" cy="1701.3" r="12.3"/></clipPath><g clip-path="url(#flag2)"><rect x="3134" y="1688.3" width="26" height="26" fill="#f5f5f5"/><rect x="3134" y="1688.3" width="26" height="6.5" fill="#ef5350"/><rect x="3134" y="1699" width="26" height="4.9" fill="#ef5350"/><rect x="3134" y="1708.1" width="26" height="6.2" fill="#ef5350"/><rect x="3134" y="1688.3" width="15.6" height="15.6" fill="#1e88e5"/><circle cx="3138.4" cy="1692.7" r="1.15" fill="#ffffff"/><circle cx="3142.5" cy="1692.7" r="1.15" fill="#ffffff"/><circle cx="3146.4" cy="1692.7" r="1.15" fill="#ffffff"/><circle cx="3138.4" cy="1696.6" r="1.15" fill="#ffffff"/><circle cx="3142.5" cy="1696.6" r="1.15" fill="#ffffff"/><circle cx="3146.4" cy="1696.6" r="1.15" fill="#ffffff"/><circle cx="3138.4" cy="1700.5" r="1.15" fill="#ffffff"/><circle cx="3142.5" cy="1700.5" r="1.15" fill="#ffffff"/><circle cx="3146.4" cy="1700.5" r="1.15" fill="#ffffff"/></g><circle cx="3132.2" cy="1701.3" r="15.3" fill="#0f0f0f" stroke="#f23645" stroke-width="2.2"/><clipPath id="flag1"><circle cx="3132.2" cy="1701.3" r="12.3"/></clipPath><g clip-path="url(#flag1)"><rect x="3119.2" y="1688.3" width="26" height="26" fill="#f5f5f5"/><rect x="3119.2" y="1688.3" width="26" height="6.5" fill="#ef5350"/><rect x="3119.2" y="1699" width="26" height="4.9" fill="#ef5350"/><rect x="3119.2" y="1708.1" width="26" height="6.2" fill="#ef5350"/><rect x="3119.2" y="1688.3" width="15.6" height="15.6" fill="#1e88e5"/><circle cx="3123.6" cy="1692.7" r="1.15" fill="#ffffff"/><circle cx="3127.7" cy="1692.7" r="1.15" fill="#ffffff"/><circle cx="3131.6" cy="1692.7" r="1.15" fill="#ffffff"/><circle cx="3123.6" cy="1696.6" r="1.15" fill="#ffffff"/><circle cx="3127.7" cy="1696.6" r="1.15" fill="#ffffff"/><circle cx="3131.6" cy="1696.6" r="1.15" fill="#ffffff"/><circle cx="3123.6" cy="1700.5" r="1.15" fill="#ffffff"/><circle cx="3127.7" cy="1700.5" r="1.15" fill="#ffffff"/><circle cx="3131.6" cy="1700.5" r="1.15" fill="#ffffff"/></g><circle cx="3132.1" cy="1664.2" r="15.8" fill="#0f0f0f"/><circle cx="3132.1" cy="1664.2" r="14.1" fill="none" stroke="#b44cd6" stroke-width="1.7"/><path d="M3136.7 1657.2 L3126.4 1665.3 L3131.9 1665.3 L3127.6 1672.5 L3138.8 1663.7 L3133.1 1663.7 Z" fill="#b44cd6" stroke="#b44cd6" stroke-width="0.7" stroke-linejoin="round"/><circle cx="3142.9" cy="1654.1" r="7" fill="#0f0f0f"/><circle cx="3142.9" cy="1654.1" r="3.9" fill="#f23645"/><path d="M3116.4 1661.6 Q3118.2000000000003 1667.7 3124.3 1669.5 Q3118.2000000000003 1671.3 3116.4 1677.4 Q3114.6 1671.3 3108.5 1669.5 Q3114.6 1667.7 3116.4 1661.6 Z" fill="#7c4dff" stroke="#0f0f0f" stroke-width="3.6" stroke-linejoin="round" paint-order="stroke"/></g><text x="15" y="28.8" font-family="Liberation Sans, sans-serif" font-size="18.2" font-weight="normal" fill="#dadada" stroke="#dadada" stroke-width="0.4" textLength="568.5" lengthAdjust="spacingAndGlyphs">jhalver_writer created with TradingView.com, Aug 20, 2025 13:57 UTC</text><text x="26.5" y="69.7" font-family="Liberation Sans, sans-serif" font-size="17.6" font-weight="normal" fill="#c8c8c8" stroke="#c8c8c8" stroke-width="0.4" textLength="319.5" lengthAdjust="spacingAndGlyphs">Ethereum / U.S. Dollar · 1D · COINBASE</text><text x="356" y="69.7" font-family="Liberation Sans, sans-serif" font-size="17.6" font-weight="normal" fill="#c8c8c8" stroke="#c8c8c8" stroke-width="0.4" textLength="12" lengthAdjust="spacingAndGlyphs">O</text><text x="367.8" y="69.7" font-family="Liberation Sans, sans-serif" font-size="17.6" font-weight="normal" fill="#22ab94" stroke="#22ab94" stroke-width="0.4" textLength="70" lengthAdjust="spacingAndGlyphs">4,075.13</text><text x="449.2" y="69.7" font-family="Liberation Sans, sans-serif" font-size="17.6" font-weight="normal" fill="#c8c8c8" stroke="#c8c8c8" stroke-width="0.4" textLength="11.6" lengthAdjust="spacingAndGlyphs">H</text><text x="460.5" y="69.7" font-family="Liberation Sans, sans-serif" font-size="17.6" font-weight="normal" fill="#22ab94" stroke="#22ab94" stroke-width="0.4" textLength="70.5" lengthAdjust="spacingAndGlyphs">4,242.69</text><text x="541.6" y="69.7" font-family="Liberation Sans, sans-serif" font-size="17.6" font-weight="normal" fill="#c8c8c8" stroke="#c8c8c8" stroke-width="0.4" textLength="9.4" lengthAdjust="spacingAndGlyphs">L</text><text x="550.6" y="69.7" font-family="Liberation Sans, sans-serif" font-size="17.6" font-weight="normal" fill="#22ab94" stroke="#22ab94" stroke-width="0.4" textLength="70.5" lengthAdjust="spacingAndGlyphs">4,062.24</text><text x="630.6" y="69.7" font-family="Liberation Sans, sans-serif" font-size="17.6" font-weight="normal" fill="#c8c8c8" stroke="#c8c8c8" stroke-width="0.4" textLength="11.6" lengthAdjust="spacingAndGlyphs">C</text><text x="641.7" y="69.7" font-family="Liberation Sans, sans-serif" font-size="17.6" font-weight="normal" fill="#22ab94" stroke="#22ab94" stroke-width="0.4" textLength="70.8" lengthAdjust="spacingAndGlyphs">4,150.00</text><text x="724" y="69.7" font-family="Liberation Sans, sans-serif" font-size="17.6" font-weight="normal" fill="#22ab94" stroke="#22ab94" stroke-width="0.4" textLength="126.5" lengthAdjust="spacingAndGlyphs">+74.11 (+1.82%)</text><text x="26.8" y="95" font-family="Liberation Sans, sans-serif" font-size="17.6" font-weight="normal" fill="#c8c8c8" stroke="#c8c8c8" stroke-width="0.4" textLength="73.8" lengthAdjust="spacingAndGlyphs">Vol · ETH</text><text x="111.6" y="95" font-family="Liberation Sans, sans-serif" font-size="17.6" font-weight="normal" fill="#22ab94" stroke="#22ab94" stroke-width="0.4" textLength="44.2" lengthAdjust="spacingAndGlyphs">89.38</text><text x="158.6" y="95" font-family="Liberation Sans, sans-serif" font-size="17.6" font-weight="normal" fill="#22ab94" stroke="#22ab94" stroke-width="0.4" textLength="11" lengthAdjust="spacingAndGlyphs">K</text><g fill="#dcdcdc"><path d="M18.1 1796 H35.9 V1818.5 H26.7 V1804.9 H18.1 Z"/><circle cx="43.5" cy="1800.3" r="4.6"/><path d="M51.1 1796 H62.7 L54.1 1818.5 H44 Z"/></g><text x="72.6" y="1818.5" font-family="Liberation Sans, sans-serif" font-size="32" font-weight="bold" fill="#dcdcdc" stroke="#dcdcdc" stroke-width="0" textLength="183" lengthAdjust="spacingAndGlyphs">TradingView</text></svg>
</body></html>
